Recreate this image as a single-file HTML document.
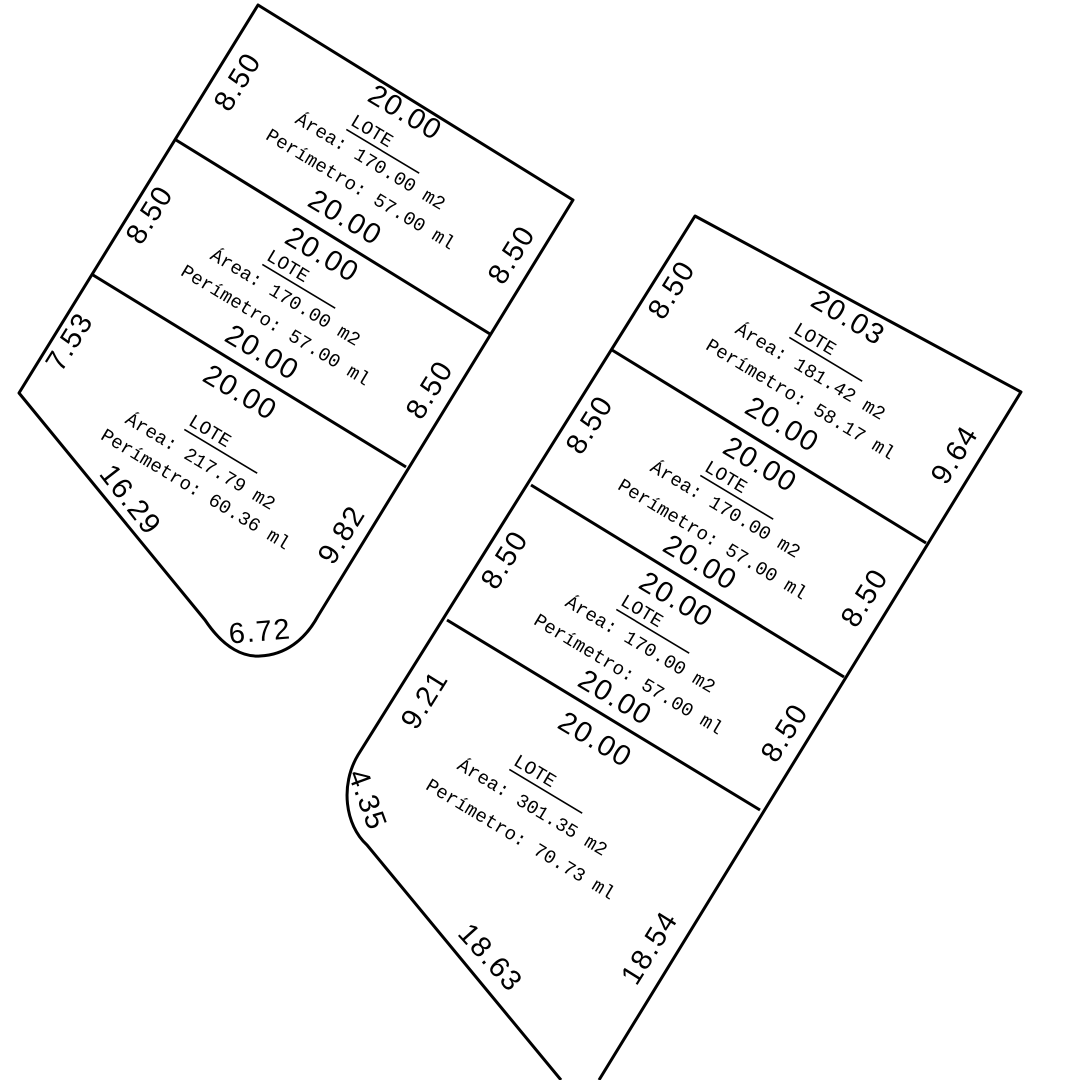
<!DOCTYPE html>
<html><head><meta charset="utf-8"><style>
html,body{margin:0;padding:0;background:#fff;}
svg{display:block}
text{font-family:"Liberation Sans",sans-serif;fill:#000;text-anchor:middle;dominant-baseline:central;}
.d{font-size:29px;letter-spacing:1.5px}
.s{font-family:"Liberation Mono",monospace;font-size:19px}
.u{font-family:"Liberation Mono",monospace;font-size:19px;text-anchor:start}
</style></head><body>
<svg width="1080" height="1080" viewBox="0 0 1080 1080" xmlns="http://www.w3.org/2000/svg">
<g fill="none" stroke="#000" stroke-width="3" stroke-linejoin="round">
<path d="M19,393 L258,5 L573,200 L318,616 C305,640 285,655 260,656 C245,657 225,650 205,620 Z"/>
<line x1="176" y1="140" x2="490" y2="334"/>
<line x1="93" y1="275" x2="406" y2="467"/>
<path d="M599,1080 L1021,392 L695,216 L358,755 C340,785 345,825 367,845 L561,1080"/>
<line x1="612" y1="350" x2="926" y2="543"/>
<line x1="531" y1="485" x2="844" y2="677"/>
<line x1="447" y1="620" x2="760" y2="810"/>
</g>
<!-- LOTE labels with long underline -->
<g stroke="#000" stroke-width="1.6">
<g transform="translate(352,120) rotate(31)"><line x1="0" y1="11" x2="85" y2="11"/></g>
<g transform="translate(268,255) rotate(31)"><line x1="0" y1="11" x2="85" y2="11"/></g>
<g transform="translate(190,420) rotate(31)"><line x1="0" y1="11" x2="85" y2="11"/></g>
<g transform="translate(795,328) rotate(31)"><line x1="0" y1="11" x2="85" y2="11"/></g>
<g transform="translate(706,466) rotate(31)"><line x1="0" y1="11" x2="85" y2="11"/></g>
<g transform="translate(622,600) rotate(31)"><line x1="0" y1="11" x2="85" y2="11"/></g>
<g transform="translate(515,760) rotate(31)"><line x1="0" y1="11" x2="85" y2="11"/></g>
</g>
<text class="u" transform="translate(352,120) rotate(31)">LOTE</text>
<text class="u" transform="translate(268,255) rotate(31)">LOTE</text>
<text class="u" transform="translate(190,420) rotate(31)">LOTE</text>
<text class="u" transform="translate(795,328) rotate(31)">LOTE</text>
<text class="u" transform="translate(706,466) rotate(31)">LOTE</text>
<text class="u" transform="translate(622,600) rotate(31)">LOTE</text>
<text class="u" transform="translate(515,760) rotate(31)">LOTE</text>
<!-- left block lot 1 -->
<text class="d" transform="translate(405,113) rotate(31)">20.00</text>
<text class="s" transform="translate(370,162) rotate(31)">Área:  170.00 m2</text>
<text class="s" transform="translate(360,190) rotate(31)">Perímetro:  57.00 ml</text>
<text class="d" transform="translate(345,218) rotate(31)">20.00</text>
<text class="d" transform="translate(238,82) rotate(-58)">8.50</text>
<text class="d" transform="translate(512,255) rotate(-58)">8.50</text>
<!-- lot 2 -->
<text class="d" transform="translate(322,255) rotate(31)">20.00</text>
<text class="s" transform="translate(285,298) rotate(31)">Área:  170.00 m2</text>
<text class="s" transform="translate(275,326) rotate(31)">Perímetro:  57.00 ml</text>
<text class="d" transform="translate(262,353) rotate(31)">20.00</text>
<text class="d" transform="translate(150,215) rotate(-58)">8.50</text>
<text class="d" transform="translate(430,390) rotate(-58)">8.50</text>
<!-- lot 3 -->
<text class="d" transform="translate(240,393) rotate(31)">20.00</text>
<text class="s" transform="translate(200,462) rotate(31)">Área:  217.79 m2</text>
<text class="s" transform="translate(195,490) rotate(31)">Perímetro:  60.36 ml</text>
<text class="d" transform="translate(70,342) rotate(-58)">7.53</text>
<text class="d" transform="translate(130,500) rotate(52)">16.29</text>
<text class="d" transform="translate(342,535) rotate(-58)">9.82</text>
<text class="d" transform="translate(260,632) rotate(-5)">6.72</text>
<!-- right lot 1 -->
<text class="d" transform="translate(848,318) rotate(31)">20.03</text>
<text class="s" transform="translate(810,372) rotate(31)">Área:  181.42 m2</text>
<text class="s" transform="translate(800,400) rotate(31)">Perímetro:  58.17 ml</text>
<text class="d" transform="translate(782,425) rotate(31)">20.00</text>
<text class="d" transform="translate(672,290) rotate(-58)">8.50</text>
<text class="d" transform="translate(955,455) rotate(-58)">9.64</text>
<!-- right lot 2 -->
<text class="d" transform="translate(760,465) rotate(31)">20.00</text>
<text class="s" transform="translate(725,510) rotate(31)">Área:  170.00 m2</text>
<text class="s" transform="translate(712,540) rotate(31)">Perímetro:  57.00 ml</text>
<text class="d" transform="translate(700,563) rotate(31)">20.00</text>
<text class="d" transform="translate(590,425) rotate(-58)">8.50</text>
<text class="d" transform="translate(865,598) rotate(-58)">8.50</text>
<!-- right lot 3 -->
<text class="d" transform="translate(676,600) rotate(31)">20.00</text>
<text class="s" transform="translate(640,645) rotate(31)">Área:  170.00 m2</text>
<text class="s" transform="translate(628,675) rotate(31)">Perímetro:  57.00 ml</text>
<text class="d" transform="translate(615,698) rotate(31)">20.00</text>
<text class="d" transform="translate(505,560) rotate(-58)">8.50</text>
<text class="d" transform="translate(785,733) rotate(-58)">8.50</text>
<!-- right lot 4 -->
<text class="d" transform="translate(595,740) rotate(31)">20.00</text>
<text class="s" transform="translate(532,808) rotate(31)">Área:  301.35 m2</text>
<text class="s" transform="translate(520,840) rotate(31)">Perímetro:  70.73 ml</text>
<text class="d" transform="translate(425,700) rotate(-58)">9.21</text>
<text class="d" transform="translate(367,800) rotate(70)">4.35</text>
<text class="d" transform="translate(490,958) rotate(48)">18.63</text>
<text class="d" transform="translate(650,948) rotate(-58)">18.54</text>
</svg>
</body></html>
